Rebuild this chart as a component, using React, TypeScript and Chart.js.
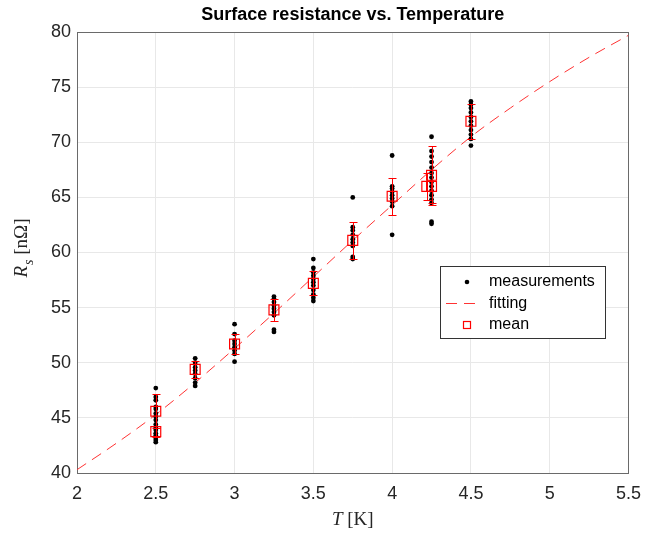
import React, { useEffect, useRef } from 'react';
import { Chart, registerables } from 'chart.js';

Chart.register(...registerables);

const titleText = 'Surface resistance vs. Temperature';
const xTicks = [2, 2.5, 3, 3.5, 4, 4.5, 5, 5.5];
const yTicks = [40, 45, 50, 55, 60, 65, 70, 75, 80];
const legendLabels = ['measurements', 'fitting', 'mean'];

// measurements per temperature
const measTemps = [2.5, 2.75, 3, 3.25, 3.5, 3.75, 4, 4.25, 4.5];
const meas250 = [47.7, 46.9, 46.6, 46.0, 45.8, 45.4, 45.1, 44.8, 44.4, 44.1, 43.9, 43.6, 43.4, 43.2, 43.0, 42.8];
const meas275 = [50.4, 50.0, 49.6, 49.3, 49.0, 48.6, 48.2, 47.9];
const meas300 = [53.5, 52.6, 52.0, 51.7, 51.4, 51.1, 50.8, 50.1];
const meas325 = [56.0, 55.8, 55.5, 55.2, 54.9, 54.6, 54.3, 53.0, 52.8];
const meas350 = [59.4, 58.6, 58.2, 57.9, 57.6, 57.3, 57.0, 56.6, 56.2, 55.9, 55.6];
const meas375 = [65.0, 62.3, 62.0, 61.6, 61.2, 60.9, 60.6, 59.6, 59.4];
const meas400 = [68.8, 66.0, 65.8, 65.5, 65.2, 64.9, 64.6, 64.2, 61.6];
const meas425 = [70.5, 69.2, 68.7, 68.2, 67.7, 67.2, 66.8, 66.4, 66.0, 65.6, 65.2, 64.8, 64.5, 62.8, 62.6];
const meas450 = [73.7, 73.4, 73.1, 72.7, 72.3, 71.9, 71.5, 71.1, 70.7, 70.3, 69.7];
const measValues = [meas250, meas275, meas300, meas325, meas350, meas375, meas400, meas425, meas450];

// fitted curve
const fitT = [2.0, 2.25, 2.5, 2.75, 3.0, 3.25, 3.5, 3.75, 4.0, 4.25, 4.5, 4.75, 5.0, 5.25, 5.5];
const fitR = [40.3, 42.7, 45.3, 48.2, 51.3, 54.5, 57.8, 61.1, 64.3, 67.5, 70.5, 73.1, 75.5, 77.7, 79.7];

// means with error
const meanT = [2.5, 2.5, 2.75, 3.0, 3.25, 3.5, 3.75, 4.0, 4.22, 4.25, 4.25, 4.5];
const meanR = [45.6, 43.75, 49.4, 51.7, 54.8, 57.2, 61.1, 65.1, 66.0, 66.0, 67.0, 71.9];
const meanErr = [1.55, 0.5, 0.75, 0.9, 1.0, 1.1, 1.7, 1.7, 1.2, 1.5, 2.7, 1.6];

const SANS = "'Liberation Sans', Arial, Helvetica, sans-serif";
const SERIF = "'Liberation Serif', 'Times New Roman', serif";

const decor = {
  id: 'decor',
  beforeDatasetsDraw(chart: any) {
    const { ctx, chartArea: a } = chart;
    ctx.save();
    ctx.strokeStyle = '#6a6a6a';
    ctx.lineWidth = 1;
    ctx.strokeRect(Math.round(a.left) + 0.5, Math.round(a.top) + 0.5, Math.round(a.right - a.left), Math.round(a.bottom - a.top));
    ctx.restore();
  },
  afterDatasetsDraw(chart: any) {
    const { ctx } = chart;
    const xs = chart.scales.x;
    const ys = chart.scales.y;
    ctx.save();
    ctx.setLineDash([]);
    ctx.globalAlpha = 1;
    ctx.strokeStyle = '#ff0000';
    ctx.lineWidth = 1;
    for (let i = 0; i < meanT.length; i++) {
      const px = Math.round(xs.getPixelForValue(meanT[i])) + 0.5;
      const yt = Math.round(ys.getPixelForValue(meanR[i] + meanErr[i])) + 0.5;
      const yb = Math.round(ys.getPixelForValue(meanR[i] - meanErr[i])) + 0.5;
      ctx.beginPath();
      ctx.moveTo(px, yt);
      ctx.lineTo(px, yb);
      ctx.moveTo(px - 4, yt);
      ctx.lineTo(px + 4, yt);
      ctx.moveTo(px - 4, yb);
      ctx.lineTo(px + 4, yb);
      ctx.stroke();
    }
    ctx.restore();
  },
  afterDraw(chart: any) {
    const { ctx, chartArea: a } = chart;
    ctx.save();
    // legend
    const lx = 440, ly = 266, lw = 165, lh = 72;
    ctx.fillStyle = '#ffffff';
    ctx.fillRect(lx, ly, lw, lh);
    ctx.strokeStyle = '#333333';
    ctx.lineWidth = 1;
    ctx.strokeRect(lx + 0.5, ly + 0.5, lw, lh);
    const rows = [282, 303.5, 325];
    const mx = 467;
    // dot
    ctx.fillStyle = '#000000';
    ctx.beginPath();
    ctx.arc(mx, rows[0], 2.3, 0, Math.PI * 2);
    ctx.fill();
    // dashed line
    ctx.strokeStyle = '#ff3333';
    ctx.lineWidth = 1;
    ctx.setLineDash([11, 7]);
    ctx.beginPath();
    ctx.moveTo(446, rows[1]);
    ctx.lineTo(481, rows[1]);
    ctx.stroke();
    ctx.setLineDash([]);
    // square
    ctx.strokeStyle = '#ff0000';
    ctx.lineWidth = 1.2;
    ctx.strokeRect(mx - 3.5, rows[2] - 3.5, 7, 7);
    ctx.fillStyle = '#000000';
    ctx.font = `16px ${SANS}`;
    ctx.textBaseline = 'middle';
    ctx.textAlign = 'left';
    legendLabels.forEach((t, i) => ctx.fillText(t, 489, rows[i]));

    // x axis label
    const cx = (a.left + a.right) / 2;
    ctx.fillStyle = '#262626';
    ctx.textBaseline = 'alphabetic';
    const fItal = `italic 19px ${SERIF}`;
    const fNorm = `19px ${SERIF}`;
    ctx.font = fItal;
    const wT = ctx.measureText('T').width;
    ctx.font = fNorm;
    const wK = ctx.measureText(' [K]').width;
    const sx = cx - (wT + wK) / 2;
    ctx.font = fItal;
    ctx.fillText('T', sx, 525);
    ctx.font = fNorm;
    ctx.fillText(' [K]', sx + wT, 525);

    // y axis label
    const cy = (a.top + a.bottom) / 2 - 4;
    ctx.translate(27, cy);
    ctx.rotate(-Math.PI / 2);
    ctx.font = fItal;
    const wR = ctx.measureText('R').width;
    const fSub = `italic 14px ${SERIF}`;
    ctx.font = fSub;
    const wS = ctx.measureText('s').width;
    ctx.font = fNorm;
    const wU = ctx.measureText(' [nΩ]').width;
    const ox = -(wR + wS + wU) / 2;
    ctx.font = fItal;
    ctx.fillText('R', ox, 0);
    ctx.font = fSub;
    ctx.fillText('s', ox + wR + 1, 6);
    ctx.font = fNorm;
    ctx.fillText(' [nΩ]', ox + wR + wS + 1, 0);
    ctx.restore();
  },
};

export default function App() {
  const ref = useRef<HTMLCanvasElement | null>(null);
  useEffect(() => {
    if (!ref.current) return;
    const measPts: { x: number; y: number }[] = [];
    measTemps.forEach((t, i) => measValues[i].forEach((v) => measPts.push({ x: t, y: v })));
    const fitPts = fitT.map((t, i) => ({ x: t, y: fitR[i] }));
    const meanPts = meanT.map((t, i) => ({ x: t, y: meanR[i] }));
    const chart = new Chart(ref.current, {
      type: 'scatter',
      data: {
        datasets: [
          {
            label: 'mean',
            data: meanPts,
            pointStyle: 'rect',
            pointRadius: 7,
            borderColor: '#ff0000',
            backgroundColor: 'rgba(0,0,0,0)',
            borderWidth: 1.2,
            order: 0,
          },
          {
            label: 'measurements',
            data: measPts,
            pointRadius: 2.4,
            backgroundColor: '#000000',
            borderColor: '#000000',
            borderWidth: 0,
            order: 1,
          },
          {
            label: 'fitting',
            data: fitPts,
            showLine: true,
            pointRadius: 0,
            borderColor: '#ff3333',
            borderWidth: 1,
            borderDash: [11, 7],
            cubicInterpolationMode: 'monotone',
            fill: false,
            order: 2,
          } as any,
        ],
      },
      options: {
        responsive: false,
        animation: false,
        layout: { padding: { left: 0, right: 14, top: 0, bottom: 0 } },
        plugins: {
          legend: { display: false },
          tooltip: { enabled: false },
          title: {
            display: true,
            text: titleText,
            color: '#000',
            font: { family: SANS, size: 18, weight: 'bold' },
            padding: { top: 4, bottom: 6.4 },
            fullSize: false,
          } as any,
        },
        scales: {
          x: {
            type: 'linear',
            min: 2,
            max: 5.5,
            afterBuildTicks: (s: any) => {
              s.ticks = xTicks.map((v) => ({ value: v }));
            },
            afterFit: (s: any) => {
              s.height = 61;
            },
            ticks: {
              callback: (v: any) => String(v),
              color: '#262626',
              font: { family: SANS, size: 18 },
              padding: 10,
              maxRotation: 0,
              autoSkip: false,
            },
            grid: { color: '#e8e8e8', drawTicks: false },
            border: { display: false },
          },
          y: {
            type: 'linear',
            min: 40,
            max: 80,
            afterBuildTicks: (s: any) => {
              s.ticks = yTicks.map((v) => ({ value: v }));
            },
            afterFit: (s: any) => {
              s.width = 77;
            },
            ticks: {
              callback: (v: any) => String(v),
              color: '#262626',
              font: { family: SANS, size: 18 },
              padding: 6,
              autoSkip: false,
            },
            grid: { color: '#e8e8e8', drawTicks: false },
            border: { display: false },
          },
        },
      },
      plugins: [decor],
    } as any);
    return () => chart.destroy();
  }, []);
  return (
    <div style={{ position: 'fixed', left: 0, top: 0, width: 651, height: 534, background: '#fff' }}>
      <canvas ref={ref} width={651} height={534} style={{ width: 651, height: 534 }} />
    </div>
  );
}
